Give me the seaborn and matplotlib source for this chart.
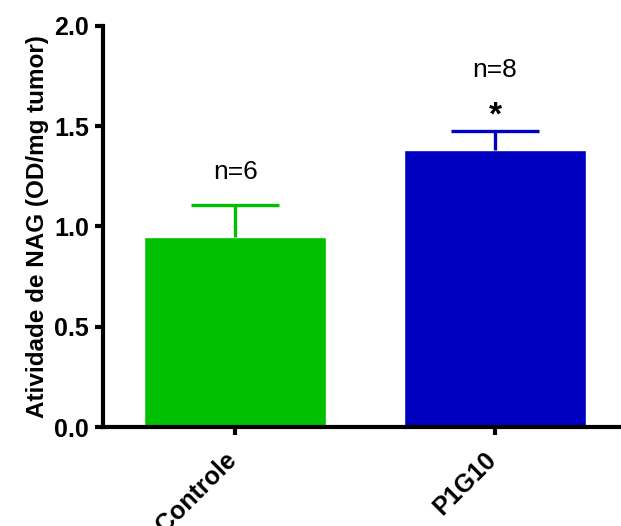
import matplotlib
matplotlib.use("Agg")
import matplotlib.pyplot as plt
import matplotlib.transforms as mtransforms
import seaborn as sns
import pandas as pd

groups = ["Controle", "P1G10"]
means = [0.945, 1.38]
sem_upper = [0.16, 0.095]
n_labels = ["n=6", "n=8"]
n_label_y = [1.27, 1.78]
colors = ["#00C000", "#0000C0"]

sns.set_style("ticks")
plt.rcParams['font.family'] = ['Liberation Sans', 'DejaVu Sans']
plt.rcParams['text.color'] = 'black'
plt.rcParams['axes.labelcolor'] = 'black'
plt.rcParams['xtick.color'] = 'black'
plt.rcParams['ytick.color'] = 'black'
plt.rcParams['axes.edgecolor'] = 'black'

fig = plt.figure(figsize=(6.21, 5.26), dpi=100)
ax = fig.add_axes([0.166, 0.188, 0.832, 0.763])

df = pd.DataFrame({"Grupo": groups, "Valor": means})
sns.barplot(data=df, x="Grupo", y="Valor", hue="Grupo", palette=colors,
            width=0.7, saturation=1, legend=False, ax=ax, errorbar=None)

# upper-only error bars, Prism style
for i, (m, e, c) in enumerate(zip(means, sem_upper, colors)):
    eb = ax.errorbar(i, m, yerr=[[0], [e]], color=c, lw=2.4, capsize=32,
                     capthick=2.4, zorder=1)
    eb[1][0].set_visible(False)

for i, (t, y) in enumerate(zip(n_labels, n_label_y)):
    ax.text(i, y, t, ha="center", va="center", fontsize=19)
ax.text(1, 1.55, "*", ha="center", va="center", fontsize=24, fontweight="bold")

ax.set_ylim(0, 2.0)
ax.set_xlim(-0.508, 1.48)
ax.set_yticks([0.0, 0.5, 1.0, 1.5, 2.0])
ax.set_yticklabels(["0.0", "0.5", "1.0", "1.5", "2.0"], fontsize=18, fontweight="bold")
ax.set_xticks([0, 1])
ax.set_xticklabels(groups, fontsize=18, fontweight="bold", rotation=45,
                   ha="right", rotation_mode="anchor")
ax.set_xlabel("")
ax.set_ylabel("Atividade de NAG (OD/mg tumor)", fontsize=17.5, fontweight="bold", labelpad=4)

sns.despine(ax=ax)
for s in ["left", "bottom"]:
    ax.spines[s].set_linewidth(3)
ax.tick_params(axis="both", width=3, length=6, pad=4)
ax.tick_params(axis="x", pad=9)
shift = mtransforms.ScaledTranslation(-11 / 100, 0, fig.dpi_scale_trans)
for lbl in ax.get_xticklabels():
    lbl.set_transform(lbl.get_transform() + shift)

fig.savefig("out.png", dpi=100)
